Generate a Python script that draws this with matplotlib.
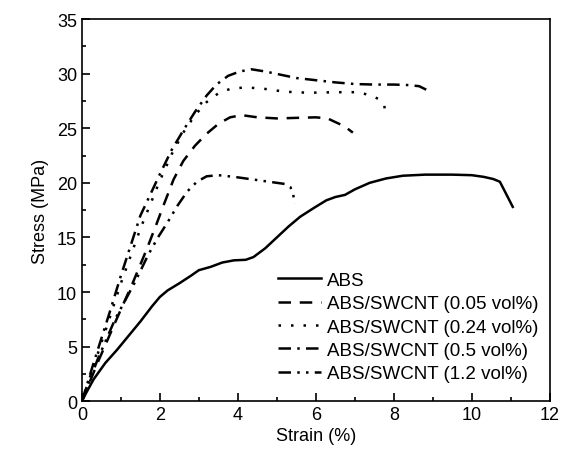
import matplotlib
matplotlib.use("Agg")
import matplotlib.pyplot as plt
from matplotlib.ticker import MultipleLocator

plt.rcParams['font.family'] = ['Liberation Sans', 'DejaVu Sans']

# strain (%) / stress (MPa)
abs_x = [0, 0.1, 0.3, 0.6, 0.9, 1.2, 1.5, 1.8, 2.0, 2.2, 2.5, 2.8, 3.0, 3.3, 3.6, 3.9, 4.2, 4.4,
         4.7, 5.0, 5.3, 5.6, 5.95, 6.27, 6.5, 6.75, 7.0, 7.38, 7.8, 8.23, 8.8, 9.5, 10.0, 10.3,
         10.55, 10.72, 10.85, 10.95, 11.05]
abs_y = [0, 0.7, 2.0, 3.5, 4.7, 6.0, 7.3, 8.7, 9.55, 10.15, 10.8, 11.5, 12.0, 12.3, 12.7, 12.9, 12.95, 13.2,
         14.0, 15.0, 16.0, 16.9, 17.7, 18.4, 18.7, 18.9, 19.4, 20.0, 20.4, 20.65, 20.75, 20.75, 20.7, 20.55,
         20.35, 20.1, 19.2, 18.5, 17.8]

d005_x = [0, 0.4, 0.9, 1.3, 1.66, 1.9, 2.1, 2.35, 2.6, 2.9, 3.2, 3.5, 3.8, 4.1, 4.5, 5.0, 5.5, 6.0,
          6.3, 6.6, 6.8, 6.95]
d005_y = [0, 3.5, 7.6, 10.8, 13.9, 16.1, 18.0, 20.3, 22.0, 23.4, 24.5, 25.4, 26.0, 26.2, 26.0, 25.9, 25.95, 26.0,
          25.9, 25.4, 25.0, 24.6]

d024_x = [0, 0.3, 0.7, 1.0, 1.5, 2.0, 2.3, 2.6, 2.9, 3.2, 3.5, 3.8, 4.2, 4.7, 5.2, 5.8, 6.5, 7.1,
          7.4, 7.6, 7.75, 7.8]
d024_y = [0, 3.2, 7.5, 10.8, 15.8, 20.2, 22.6, 24.6, 26.2, 27.4, 28.2, 28.6, 28.75, 28.6, 28.35, 28.25, 28.3, 28.3,
          28.0, 27.7, 27.2, 26.0]

d05_x = [0, 0.3, 0.7, 1.0, 1.5, 1.75, 2.0, 2.3, 2.6, 2.9, 3.2, 3.45, 3.75, 4.05, 4.35, 4.7, 5.1, 5.5,
         6.0, 6.5, 7.0, 7.5, 8.0, 8.4, 8.65, 8.85]
d05_y = [0, 3.5, 8.0, 11.5, 17.0, 18.9, 20.8, 23.0, 24.8, 26.5, 28.0, 29.0, 29.8, 30.2, 30.4, 30.2, 29.9, 29.6,
         29.4, 29.2, 29.05, 29.0, 29.0, 28.95, 28.85, 28.5]

d12_x = [0, 0.4, 0.85, 1.36, 1.7, 1.95, 2.2, 2.45, 2.7, 2.95, 3.2, 3.5, 3.9, 4.4, 4.9, 5.2, 5.35,
         5.42, 5.46]
d12_y = [0, 3.8, 7.5, 10.9, 13.4, 15.0, 16.4, 17.9, 19.2, 20.1, 20.6, 20.7, 20.55, 20.3, 20.05, 19.9, 19.6,
         18.9, 18.1]

labels = ['ABS', 'ABS/SWCNT (0.05 vol%)', 'ABS/SWCNT (0.24 vol%)',
          'ABS/SWCNT (0.5 vol%)', 'ABS/SWCNT (1.2 vol%)']

fig = plt.figure(figsize=(5.61, 4.56), dpi=100)
ax = fig.add_axes([0.146, 0.118, 0.834, 0.838])

lw = 1.8
ax.plot(abs_x, abs_y, color='black', lw=lw, ls='-', label=labels[0])
ax.plot(d005_x, d005_y, color='black', lw=lw, ls=(0, (5, 3.5)), label=labels[1])
ax.plot(d024_x, d024_y, color='black', lw=lw, ls=(0, (1, 4)), label=labels[2])
ax.plot(d05_x, d05_y, color='black', lw=lw, ls=(0, (5, 2.5, 1, 2.5)), label=labels[3])
ax.plot(d12_x, d12_y, color='black', lw=lw, ls=(0, (5, 2.5, 1, 2.5, 1, 2.5)), label=labels[4])

ax.set_xlim(0, 12)
ax.set_ylim(0, 35)
ax.xaxis.set_major_locator(MultipleLocator(2))
ax.xaxis.set_minor_locator(MultipleLocator(1))
ax.yaxis.set_major_locator(MultipleLocator(5))
ax.yaxis.set_minor_locator(MultipleLocator(2.5))
ax.tick_params(which='both', direction='in', labelsize=13, width=1.2)
ax.tick_params(which='major', length=6)
ax.tick_params(which='minor', length=3)
for s in ax.spines.values():
    s.set_linewidth(1.2)

ax.set_xlabel('Strain (%)', fontsize=13, labelpad=3)
ax.set_ylabel('Stress (MPa)', fontsize=13, labelpad=6)

ax.legend(loc='lower right', bbox_to_anchor=(1.0, 0.02), frameon=False, fontsize=13.5,
          handlelength=2.3, handletextpad=0.3, labelspacing=0.33, borderaxespad=0.2)

fig.savefig('out.png', dpi=100)
